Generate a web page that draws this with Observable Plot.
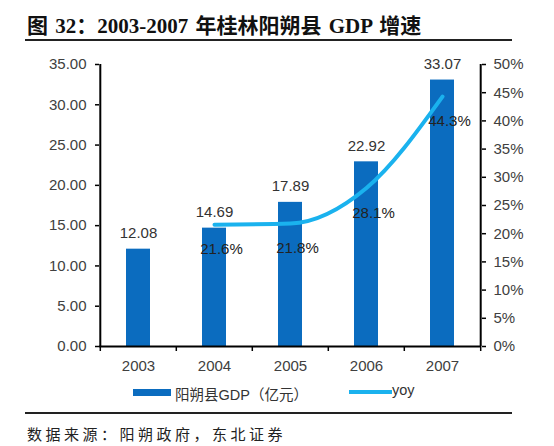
<!DOCTYPE html>
<html><head><meta charset="utf-8">
<script src="https://cdn.jsdelivr.net/npm/d3@7"></script>
<script src="https://cdn.jsdelivr.net/npm/@observablehq/plot@0.6"></script>
<style>
body{margin:0;background:#fff;width:554px;height:446px;position:relative;overflow:hidden;font-family:"Liberation Sans",Arial,sans-serif}
#title{position:absolute;left:27px;top:9px;font-weight:bold;font-size:21px;word-spacing:2px;font-family:"Liberation Serif","Noto Sans CJK SC",serif;color:#111;white-space:nowrap}
.hr{position:absolute;left:25px;width:487px;height:2px;background:#222}
#chart{position:absolute;left:0;top:50px}
.lg{position:absolute;white-space:nowrap;font-size:14.5px;color:#333;font-family:"Liberation Sans","Noto Sans CJK SC",sans-serif}
#source{position:absolute;left:27px;top:423px;font-size:15px;font-family:"Noto Sans CJK SC",sans-serif;letter-spacing:3.5px;color:#222;white-space:nowrap}
</style></head>
<body>
<div id="title">图 32：2003-2007 年桂林阳朔县 GDP 增速</div>
<div class="hr" style="top:39px"></div>
<div id="chart"></div>
<div class="lg" style="left:133px;top:389px;width:38px;height:7px;background:#0b6cbf"></div>
<div class="lg" style="left:175px;top:383px">阳朔县GDP（亿元）</div>
<div class="lg" style="left:349px;top:390px;width:43px;height:4px;background:#1ab2ee"></div>
<div class="lg" style="left:392px;top:382px">yoy</div>
<div class="hr" style="top:412px"></div>
<div id="source">数据来源：阳朔政府，东北证券</div>
<script>
const years = ["2003", "2004", "2005", "2006", "2007"];
const gdp = [12.08, 14.69, 17.89, 22.92, 33.07];
const yoy = [null, 21.6, 21.8, 28.1, 44.3];
const leftTicks = [0, 5, 10, 15, 20, 25, 30, 35];
const rightTicks = [0, 5, 10, 15, 20, 25, 30, 35, 40, 45, 50];
const gdpMax = 35, yoyMax = 50;
const k = gdpMax / yoyMax;

const rows = years.map((year, i) => ({year, gdp: gdp[i], yoy: yoy[i]}));
const yoyRows = rows.filter(d => d.yoy != null);

const W = 554, H = 330, ML = 99, MR = 73, MT = 14, MB = 34;
const step = (W - ML - MR) / years.length;

const chart = Plot.plot({
  width: W, height: H,
  marginLeft: ML, marginRight: MR, marginTop: MT, marginBottom: MB,
  style: {fontFamily: "Liberation Sans, Arial, sans-serif", fontSize: "15px", color: "#404040", background: "transparent"},
  x: {domain: years, paddingInner: 0.69, paddingOuter: 0.345, axis: null},
  y: {domain: [0, gdpMax], axis: null},
  marks: [
    Plot.barY(rows, {x: "year", y: "gdp", fill: "#0b6cbf"}),
    Plot.line(yoyRows, {x: "year", y: d => d.yoy * k, stroke: "#1ab2ee", strokeWidth: 4, curve: "monotone-x"}),
    Plot.text(rows, {x: "year", y: "gdp", text: d => d.gdp.toFixed(2), dy: -16, fill: "#333"}),
    Plot.text(yoyRows, {x: "year", y: d => d.yoy * k, text: d => d.yoy.toFixed(1) + "%", dx: 7, dy: 25, fill: "#222"}),
    Plot.axisY({ticks: leftTicks, anchor: "left", tickSize: 4, tickPadding: 9, tickFormat: d => d.toFixed(2), label: null, stroke: "#000", strokeWidth: 1.5}),
    Plot.axisY({ticks: rightTicks.map(t => t * k), anchor: "right", tickSize: 4, tickPadding: 8, tickFormat: d => Math.round(d / k) + "%", label: null, stroke: "#000", strokeWidth: 1.5}),
    Plot.axisX({ticks: years, tickSize: 0, tickPadding: 14, label: null}),
    Plot.axisX({ticks: years, tickSize: 5, tickFormat: () => "", dx: -step / 2, label: null, stroke: "#000", strokeWidth: 1.5}),
    Plot.axisX({ticks: years.slice(-1), tickSize: 5, tickFormat: () => "", dx: step / 2, label: null, stroke: "#000", strokeWidth: 1.5}),
    Plot.ruleX(years.slice(0, 1), {y1: 0, y2: gdpMax, dx: -step / 2, stroke: "#000", strokeWidth: 2}),
    Plot.ruleX(years.slice(-1), {y1: 0, y2: gdpMax, dx: step / 2, stroke: "#000", strokeWidth: 2}),
    Plot.ruleY([0], {stroke: "#000", strokeWidth: 2})
  ]
});
document.getElementById("chart").appendChild(chart);
</script>
</body></html>
